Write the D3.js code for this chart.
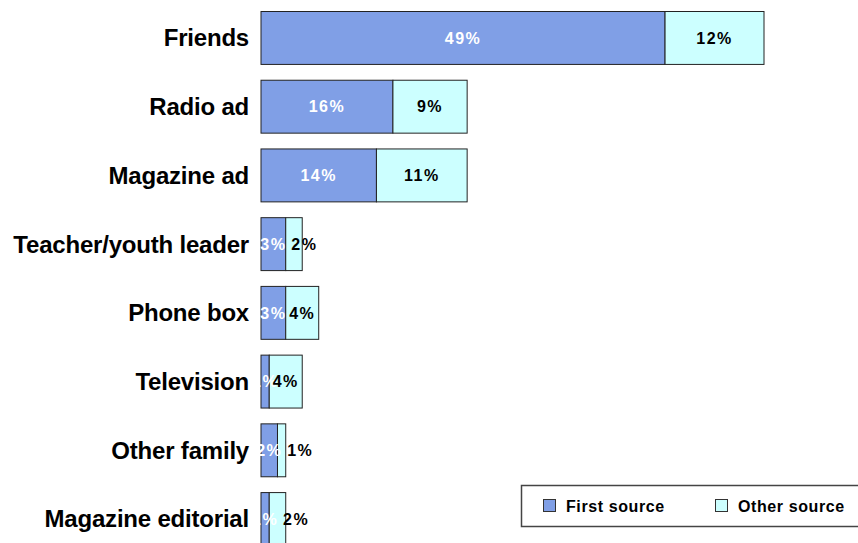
<!DOCTYPE html>
<html>
<head>
<meta charset="utf-8">
<script src="https://cdn.jsdelivr.net/npm/d3@7"></script>
<style>
  html, body { margin: 0; padding: 0; background: #fff; }
  svg { display: block; font-family: Arial, "Liberation Sans", sans-serif; }
</style>
</head>
<body>
<svg id="chart" width="858" height="543"></svg>
<script>
// Where people first heard about the service, and other sources mentioned
const categories = ["Friends", "Radio ad", "Magazine ad", "Teacher/youth leader",
                    "Phone box", "Television", "Other family", "Magazine editorial"];
const firstSource = [49, 16, 14, 3, 3, 1, 2, 1];
const otherSource = [12, 9, 11, 2, 4, 4, 1, 2];
const seriesNames = ["First source", "Other source"];
const seriesColors = ["#809fe6", "#ccffff"];

const svg = d3.select("#chart");

const x = d3.scaleLinear().domain([0, 61]).range([261, 764]);
const y = d3.scaleBand().domain(categories)
  .range([3.6, 553.4]).paddingInner(0.23).paddingOuter(0.115);

const rows = categories.map((c, i) => ({
  cat: c, first: firstSource[i], other: otherSource[i]
}));

// Bars: first source from 0, other source stacked after it
const g = svg.append("g");
rows.forEach(r => {
  g.append("rect")
    .attr("x", x(0)).attr("y", y(r.cat))
    .attr("width", x(r.first) - x(0)).attr("height", y.bandwidth())
    .attr("fill", seriesColors[0]).attr("stroke", "#222").attr("stroke-width", 1);
  g.append("rect")
    .attr("x", x(r.first)).attr("y", y(r.cat))
    .attr("width", x(r.first + r.other) - x(r.first)).attr("height", y.bandwidth())
    .attr("fill", seriesColors[1]).attr("stroke", "#222").attr("stroke-width", 1);
});

// Category labels
svg.append("g").selectAll("text").data(rows).join("text")
  .attr("x", 249).attr("y", d => y(d.cat) + y.bandwidth() / 2)
  .attr("dy", "0.35em").attr("text-anchor", "end")
  .attr("font-size", 24).attr("font-weight", "bold").attr("fill", "#000")
  .attr("letter-spacing", "-0.2px")
  .text(d => d.cat);

// Value labels
const labelStyle = sel => sel
  .attr("dy", "0.36em").attr("text-anchor", "middle")
  .attr("font-size", 16).attr("font-weight", "bold")
  .attr("letter-spacing", "1.5px");

const lab = svg.append("g");
rows.forEach(r => {
  const cy = y(r.cat) + y.bandwidth() / 2;
  const c1 = (x(0) + x(r.first)) / 2;
  const c2 = (x(r.first) + x(r.first + r.other)) / 2;
  const w2 = x(r.first + r.other) - x(r.first);
  // narrow segments push their label clear of the first-source label
  const x2 = w2 < 28 ? Math.max(c2, c1 + 31) : c2;
  lab.append("text").call(labelStyle)
    .attr("x", c1).attr("y", cy).attr("fill", "#fff").text(r.first + "%");
  lab.append("text").call(labelStyle)
    .attr("x", x2).attr("y", cy).attr("fill", "#000").text(r.other + "%");
});

// Legend
const leg = svg.append("g");
leg.append("rect")
  .attr("x", 521.5).attr("y", 485.5).attr("width", 345).attr("height", 41)
  .attr("fill", "#fff").attr("stroke", "#444").attr("stroke-width", 1.5);
const legX = [543, 715];
seriesNames.forEach((name, i) => {
  leg.append("rect")
    .attr("x", legX[i] + 0.5).attr("y", 499.5).attr("width", 12).attr("height", 12)
    .attr("fill", seriesColors[i]).attr("stroke", "#333").attr("stroke-width", 1);
  leg.append("text")
    .attr("x", legX[i] + 23).attr("y", 506).attr("dy", "0.35em")
    .attr("font-size", 16).attr("font-weight", "bold").attr("letter-spacing", "0.6px")
    .attr("fill", "#000").text(name);
});
</script>
</body>
</html>
